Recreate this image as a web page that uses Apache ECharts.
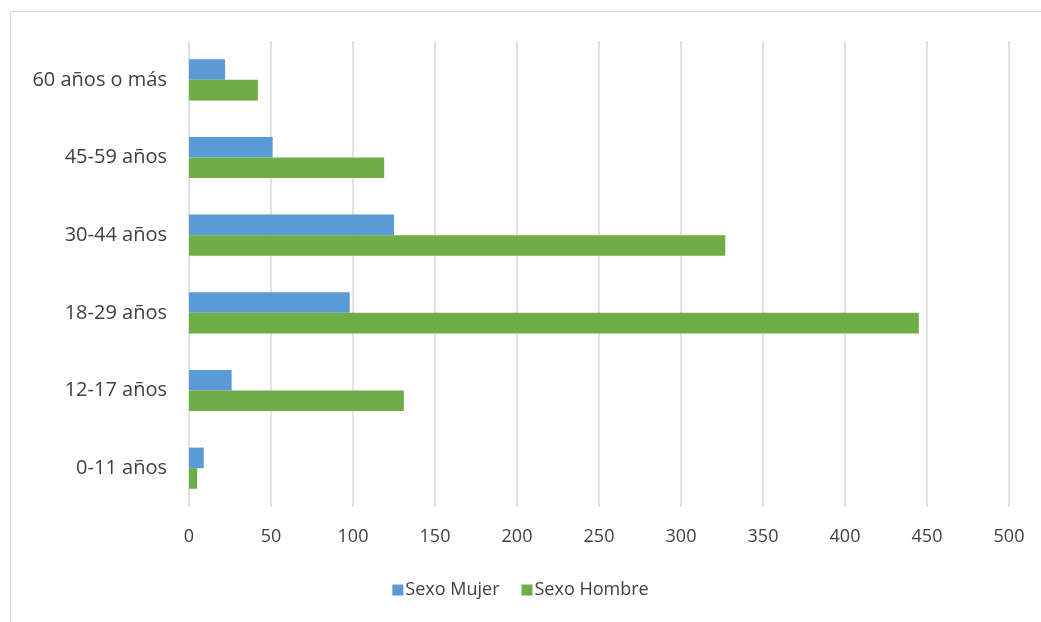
<!DOCTYPE html>
<html><head><meta charset="utf-8">
<script src="https://cdn.jsdelivr.net/npm/echarts@6/dist/echarts.min.js"></script>
<style>
html,body{margin:0;padding:0;background:#fff;}
#frame{position:absolute;left:10px;top:11px;width:1100px;height:700px;border-top:1.5px solid #d9d9d9;border-left:1.5px solid #d9d9d9;}
#c{position:absolute;left:0;top:0;width:1041px;height:622px;}
</style></head><body>
<div id="frame"></div>
<div id="c"></div>
<script>
const categories = ['0-11 años','12-17 años','18-29 años','30-44 años','45-59 años','60 años o más'];
const mujer = [9, 26, 98, 125, 51, 22];
const hombre = [5, 131, 445, 327, 119, 42];
const xTicks = {min: 0, max: 500, interval: 50};

const chart = echarts.init(document.getElementById('c'));
const font = '"Open Sans", "Noto Sans", sans-serif';
chart.setOption({
  animation: false,
  textStyle: {fontFamily: font},
  grid: {left: 189, right: 32, top: 41, height: 466, containLabel: false},
  legend: {
    data: ['Sexo Mujer', 'Sexo Hombre'],
    bottom: 18, left: 'center',
    itemWidth: 11, itemHeight: 11, itemGap: 22,
    icon: 'rect',
    textStyle: {color: '#404040', fontSize: 18, fontFamily: font, padding: [0,0,0,-3]}
  },
  xAxis: {
    type: 'value', min: xTicks.min, max: xTicks.max, interval: xTicks.interval,
    axisLine: {show: false}, axisTick: {show: false},
    axisLabel: {color: '#404040', fontSize: 18, margin: 21, fontFamily: font},
    splitLine: {lineStyle: {color: '#d9d9d9', width: 1.5}}
  },
  yAxis: {
    type: 'category', data: categories,
    axisLine: {show: false}, axisTick: {show: false},
    axisLabel: {color: '#404040', fontSize: 20, margin: 22, fontFamily: font}
  },
  series: [
    {name: 'Sexo Mujer', type: 'bar', data: mujer, itemStyle: {color: '#5b9bd5'},
     barGap: '0%', barCategoryGap: '47%'},
    {name: 'Sexo Hombre', type: 'bar', data: hombre, itemStyle: {color: '#70ad47'},
     barGap: '0%', barCategoryGap: '47%'}
  ]
});
</script>
</body></html>
